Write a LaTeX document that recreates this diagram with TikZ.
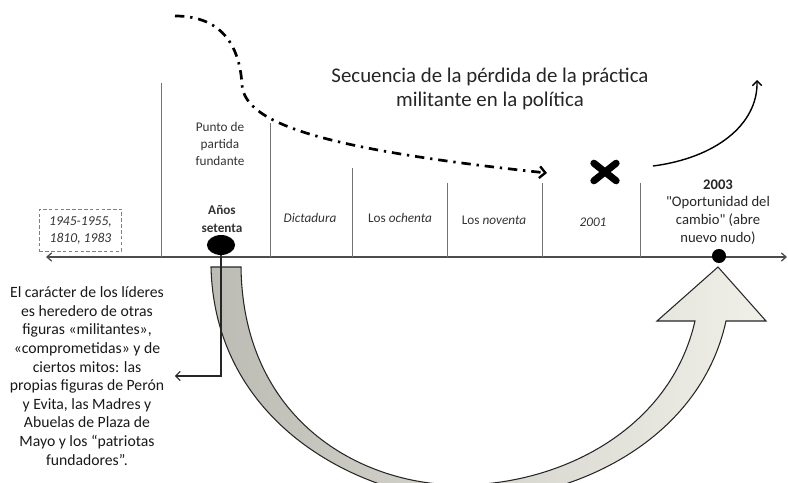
\documentclass[tikz,border=0pt]{standalone}
\usepackage{fontspec}
\setmainfont{Carlito}[Ligatures=TeXOff]
\usetikzlibrary{arrows.meta,shapes.geometric,shapes.misc}
\definecolor{bandaosc}{RGB}{188,188,180}
\definecolor{bandacla}{RGB}{240,239,232}

\begin{document}
\begin{tikzpicture}[x=0.03cm, y=-0.03cm]
    \tikzstyle{etapa} = [font=\fontsize{11.3}{14.8}\selectfont, text=black!80, align=center, inner sep=0pt]
    \tikzstyle{marca} = [draw=black!55, line width=0.7pt]
    \tikzstyle{flujo} = [line width=2.3pt, dash pattern=on 8pt off 5pt on 2pt off 5pt]
    \tikzstyle{nota} = [font=\fontsize{13.4}{15.9}\selectfont, text=black!90, align=center, inner sep=0pt]
    \tikzstyle{barb} = [-{Straight Barb[length=4pt, width=8pt]}]
    \useasboundingbox (0,0) rectangle (788,483);
    % linea de tiempo
    \coordinate (ini) at (46,257);
    \coordinate (fin) at (787,257);
    \draw[draw=black!70, line width=1.1pt, {Straight Barb[length=4pt, width=7pt]}-{Straight Barb[length=4pt, width=7pt]}] (ini) -- (fin);
    \foreach \tx/\ty in {161/83, 270/123, 352/168, 447/183, 542/183, 640/183}
      \draw[marca] (\tx,\ty) -- (\tx,257);
    % flecha grande
    \begin{scope}
      \clip (0,0) rectangle (788,483);
      \path[draw=black!85, line width=0.9pt, left color=bandaosc, right color=bandacla]
        (211,267) -- (241,267)
        .. controls (243,420) and (360,485) .. (460,485)
        .. controls (560,485) and (670,430) .. (695,321)
        -- (657,321) -- (718,267) -- (766,321) -- (726,321)
        .. controls (700,440) and (575,500) .. (468,500)
        .. controls (370,500) and (215,430) .. (211,267) -- cycle;
    \end{scope}
    % etapas
    \node[draw=black!50, densely dashed, line width=0.5pt, font=\fontsize{11.6}{14.5}\selectfont\itshape,
      text=black!80, align=center, minimum width=70pt, minimum height=36pt, inner sep=0pt] (antes) at (80.5,230) {1945-1955,\\1810, 1983};
    \node[etapa] (punto) at (220,144) {Punto de\\partida\\fundante};
    \node[etapa] (anios) at (222,219) {\textbf{Años}\\\textbf{setenta}};
    \node[etapa] (dictadura) at (310,218) {\textit{Dictadura}};
    \node[etapa] (ochenta) at (400,218) {Los \textit{ochenta}};
    \node[etapa] (noventa) at (494,220) {Los \textit{noventa}};
    \node[etapa] (crisis) at (593,222) {\textit{2001}};
    \node[font=\fontsize{12.5}{15.2}\selectfont, text=black!85, align=center, inner sep=0pt] (cambio) at (718,212)
      {\textbf{2003}\\"Oportunidad del\\cambio" (abre\\nuevo nudo)};
    \node[ellipse, fill=black, minimum width=24pt, minimum height=17pt, inner sep=0pt] (setenta) at (221,245) {};
    \node[circle, fill=black, minimum size=12pt, inner sep=0pt] (nudo) at (719,256) {};
    \node[cross out, draw=black, line width=6pt, line cap=round, minimum width=13pt, minimum height=9pt, inner sep=0pt] (quiebre) at (605,172) {};
    % titulo y nota
    \node[font=\fontsize{17.8}{20.4}\selectfont, text=black!85, align=center, inner sep=0pt] (titulo) at (490,89)
      {Secuencia de la pérdida de la práctica\\militante en la política};
    \node[nota] (legado) at (87,376) {El carácter de los líderes\\es heredero de otras\\figuras «militantes»,\\«comprometidas» y de\\ciertos mitos: las\\propias figuras de Perón\\y Evita, las Madres y\\Abuelas de Plaza de\\Mayo y los “patriotas\\fundadores”.};
    % conectores
    \draw[barb, line width=0.9pt, draw=black!85, shorten >=9pt] (setenta.south) |- (legado.east);
    \coordinate (flujoini) at (175,16);
    \coordinate (flujofin) at (547,173);
    \draw[flujo, -{Straight Barb[length=5pt, width=10pt, line width=2pt]}] (flujoini)
      .. controls (225,16) and (240,50) .. (242,85)
      .. controls (245,125) and (330,150) .. (flujofin);
    \coordinate (salidaini) at (653,166);
    \coordinate (salidafin) at (757,80);
    \draw[barb, line width=1.2pt] (salidaini) .. controls (715,158) and (758,125) .. (salidafin);
\end{tikzpicture}
\end{document}
